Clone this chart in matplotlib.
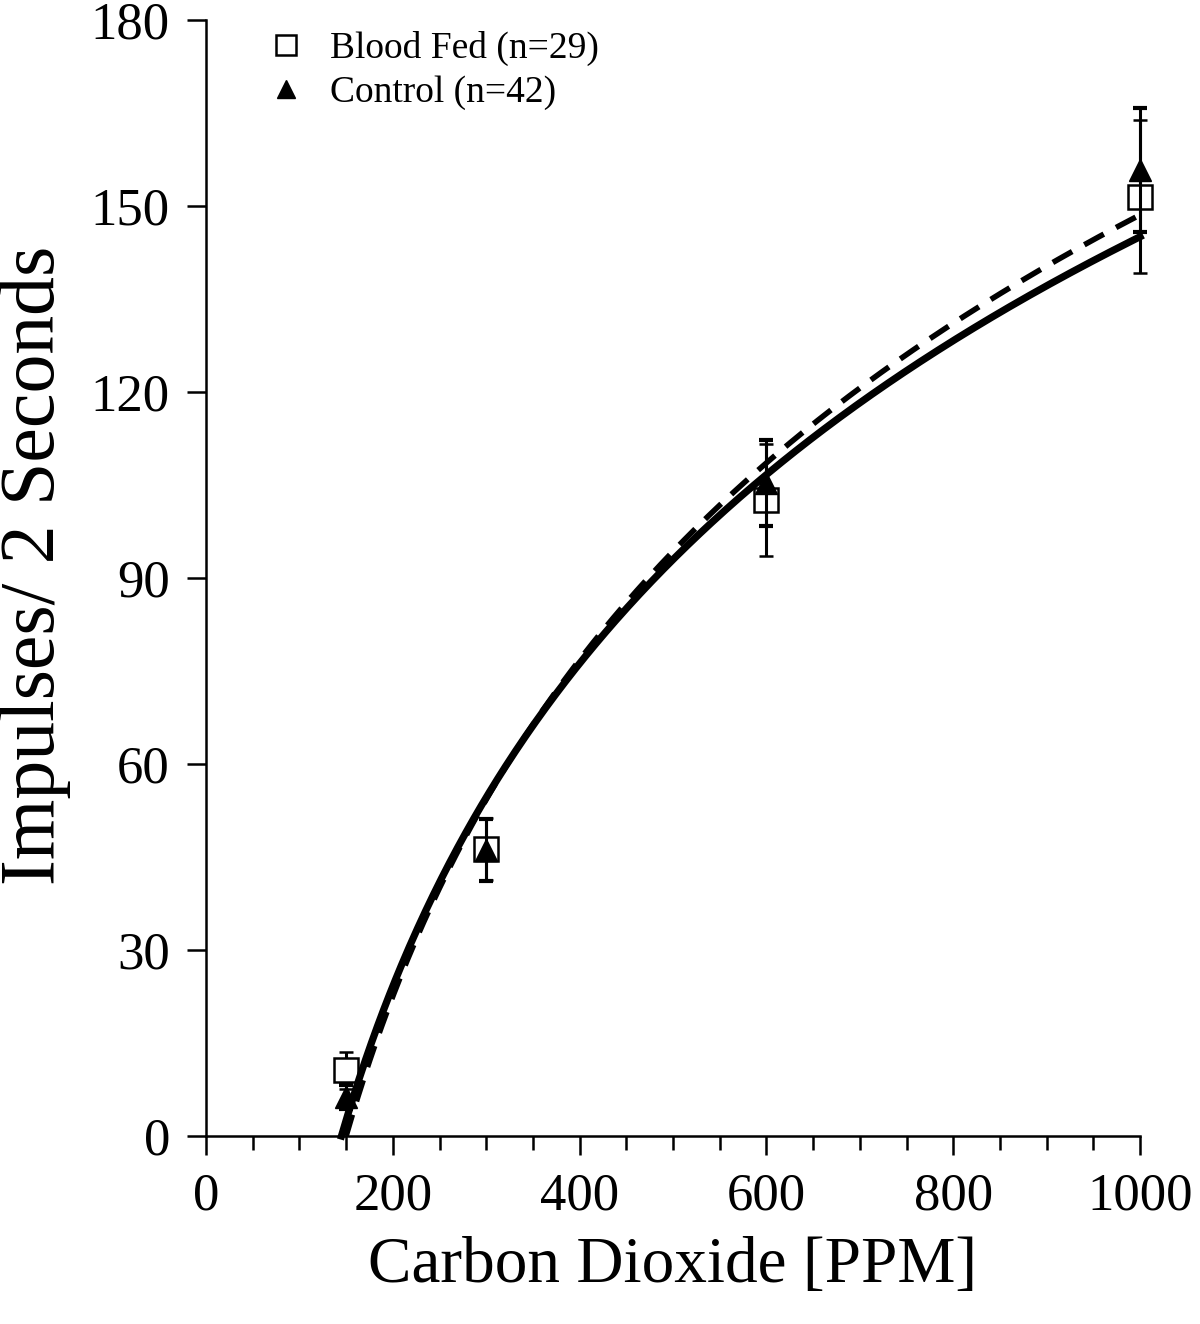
import numpy as np
import matplotlib
matplotlib.use("Agg")
import matplotlib.pyplot as plt
from matplotlib.ticker import MultipleLocator

# Data
co2 = [150, 300, 600, 1000]
blood_fed_mean = [10.6, 46.3, 102.6, 151.5]
blood_fed_err = [3.0, 5.0, 9.0, 12.3]
control_mean = [6.3, 46.2, 105.3, 155.8]
control_err = [2.0, 5.0, 7.0, 10.0]

# Logarithmic fits: y = a * ln(x / x0)
solid_fit = (75.1, 145.0)
dashed_fit = (78.3, 150.0)

plt.rcParams['font.family'] = ['Liberation Serif', 'DejaVu Serif']

fig = plt.figure(figsize=(12, 13.24), dpi=100)
ax = fig.add_axes([0.1717, 0.142, 0.9500 - 0.1717, 0.985 - 0.142])

eb1 = ax.errorbar(co2, blood_fed_mean, yerr=blood_fed_err, fmt='s', mfc='white', mec='black',
                  mew=1.8, ms=17, ecolor='black', elinewidth=2.2, capsize=5, capthick=3,
                  label='Blood Fed (n=29)', zorder=3)
eb2 = ax.errorbar(co2, control_mean, yerr=control_err, fmt='^', mfc='black', mec='black',
                  ms=16, ecolor='black', elinewidth=2.2, capsize=5, capthick=3,
                  label='Control (n=42)', zorder=4)
for eb in (eb1, eb2):
    for child in eb.get_children():
        child.set_clip_on(False)

a, x0 = solid_fit
xs = np.linspace(x0, 1000, 400)
ax.plot(xs, a * np.log(xs / x0), color='black', lw=5.2, zorder=5, clip_on=False)
a, x0 = dashed_fit
xs = np.linspace(x0, 1000, 400)
ax.plot(xs, a * np.log(xs / x0), color='black', lw=4.0, ls=(0, (4, 2.5)), zorder=5,
        clip_on=False)

ax.set_xlim(0, 1000)
ax.set_ylim(0, 180)
ax.xaxis.set_major_locator(MultipleLocator(200))
ax.xaxis.set_minor_locator(MultipleLocator(50))
ax.yaxis.set_major_locator(MultipleLocator(30))
ax.spines['top'].set_visible(False)
ax.spines['right'].set_visible(False)
for s in ['left', 'bottom']:
    ax.spines[s].set_linewidth(1.8)
ax.tick_params(axis='both', which='major', direction='out', length=14, width=1.8,
               labelsize=38, pad=12)
ax.tick_params(axis='x', which='minor', direction='out', length=10, width=1.8)

ax.set_xlabel('Carbon Dioxide [PPM]', fontsize=47, labelpad=12)
fig.text(35 / 1200, 1 - 565 / 1324, 'Impulses/ 2 Seconds', fontsize=56, rotation=90,
         ha='center', va='center')

h, l = ax.get_legend_handles_labels()
h = [hh[0] for hh in h]
leg = ax.legend(h, l, loc='upper left', bbox_to_anchor=(0.062, 0.99), frameon=False,
                fontsize=27, handletextpad=0.55, labelspacing=0.25, markerscale=0.85,
                handlelength=1.2, borderpad=0, borderaxespad=0)

fig.savefig('out.png', dpi=100)
